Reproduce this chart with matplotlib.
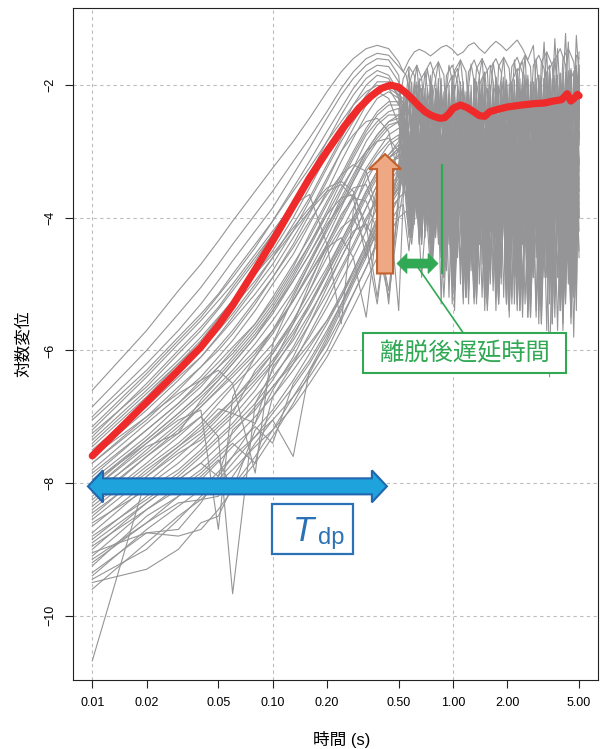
import matplotlib
matplotlib.use("Agg")
import matplotlib.pyplot as plt
import numpy as np
from matplotlib.patches import Polygon, Rectangle
from matplotlib.ticker import NullLocator
from matplotlib.transforms import IdentityTransform

plt.rcParams['font.family'] = ['Liberation Sans', 'Noto Sans CJK JP']

# sample times (s) of the rising part, shared by every record
RISE_T = [0.01, 0.02, 0.03, 0.04, 0.05, 0.06, 0.08, 0.10, 0.13, 0.16,
          0.20, 0.24, 0.28, 0.33, 0.38, 0.44, 0.50]

# sample times of the oscillating part (two staggered sets)
TAIL_T_A = [0.53, 0.57, 0.61, 0.65, 0.70, 0.75, 0.80, 0.86, 0.92, 0.99,
            1.06, 1.14, 1.22, 1.31, 1.40, 1.50, 1.61, 1.73, 1.85, 1.98,
            2.12, 2.27, 2.43, 2.60, 2.79, 2.99, 3.20, 3.43, 3.67, 3.93,
            4.21, 4.51, 4.83, 5.00]
TAIL_T_B = [0.55, 0.59, 0.63, 0.67, 0.72, 0.77, 0.83, 0.89, 0.95, 1.02,
            1.10, 1.18, 1.26, 1.35, 1.45, 1.55, 1.67, 1.79, 1.91, 2.05,
            2.19, 2.35, 2.51, 2.69, 2.89, 3.09, 3.31, 3.55, 3.80, 4.07,
            4.36, 4.67, 5.00]

# log displacement of each record while rising
RISE_V = [
    [-6.60, -5.70, -5.10, -4.70, -4.35, -4.05, -3.60, -3.25, -2.85, -2.50, -2.10, -1.80, -1.60, -1.45, -1.40, -1.45, -1.65],
    [-6.85, -6.00, -5.45, -5.05, -4.70, -4.40, -3.95, -3.60, -3.15, -2.80, -2.40, -2.05, -1.80, -1.60, -1.52, -1.55, -1.72],
    [-7.00, -6.20, -5.70, -5.30, -4.95, -4.65, -4.20, -3.85, -3.35, -2.95, -2.50, -2.15, -1.90, -1.70, -1.60, -1.62, -1.85],
    [-7.15, -6.35, -5.85, -5.50, -5.17, -4.90, -4.45, -4.05, -3.55, -3.15, -2.70, -2.35, -2.05, -1.80, -1.70, -1.72, -1.95],
    [-7.25, -6.55, -6.05, -5.70, -5.38, -5.10, -4.65, -4.25, -3.75, -3.35, -2.85, -2.45, -2.15, -1.90, -1.78, -1.85, -2.10],
    [-7.40, -6.65, -6.20, -5.85, -5.52, -5.25, -4.85, -4.50, -4.00, -3.55, -3.05, -2.65, -2.30, -2.00, -1.85, -1.90, -2.20],
    [-7.50, -6.80, -6.35, -6.00, -5.70, -5.45, -5.00, -4.60, -4.10, -3.70, -3.20, -2.80, -2.45, -2.15, -1.95, -1.95, -2.15],
    [-7.60, -6.90, -6.45, -6.10, -5.78, -5.50, -5.05, -4.70, -4.20, -3.75, -3.25, -2.85, -2.55, -2.25, -2.05, -2.00, -2.10],
    [-7.70, -7.05, -6.60, -6.25, -5.95, -5.70, -5.25, -4.90, -4.40, -3.95, -3.45, -3.00, -2.65, -2.30, -2.10, -2.05, -2.15],
    [-7.80, -7.10, -6.70, -6.40, -6.10, -5.85, -5.40, -5.00, -4.55, -4.10, -3.60, -3.15, -2.80, -2.45, -2.20, -2.10, -2.20],
    [-7.85, -7.20, -6.80, -6.45, -6.18, -5.95, -5.60, -5.25, -4.75, -4.25, -3.75, -3.35, -3.00, -2.65, -2.40, -2.25, -2.25],
    [-7.95, -7.30, -6.85, -6.55, -6.25, -6.00, -5.60, -5.20, -4.70, -4.30, -3.80, -3.40, -3.05, -2.70, -2.45, -2.30, -2.30],
    [-8.05, -7.35, -6.95, -6.65, -6.35, -6.10, -5.70, -5.35, -4.85, -4.40, -3.90, -3.45, -3.10, -2.75, -2.55, -2.40, -2.35],
    [-8.10, -7.45, -7.25, -6.75, -6.45, -6.20, -5.80, -5.45, -4.95, -4.55, -4.05, -3.60, -3.25, -2.85, -2.60, -2.45, -2.45],
    [-8.20, -7.50, -7.10, -6.80, -6.52, -6.30, -5.90, -5.55, -5.10, -4.65, -4.15, -3.75, -3.40, -3.00, -2.75, -2.55, -2.50],
    [-8.25, -7.60, -7.20, -6.85, -6.58, -6.35, -6.00, -5.70, -5.25, -4.80, -4.30, -3.85, -3.45, -3.05, -2.80, -2.60, -2.55],
    [-8.35, -7.70, -7.30, -7.00, -6.72, -6.50, -6.10, -5.75, -5.25, -4.85, -4.40, -4.00, -3.65, -3.25, -3.00, -2.75, -2.65],
    [-8.40, -7.75, -7.40, -7.10, -6.80, -6.55, -6.20, -5.90, -5.40, -4.95, -4.45, -4.05, -3.70, -3.30, -3.05, -2.85, -2.75],
    [-8.50, -7.80, -7.45, -7.15, -6.88, -6.95, -6.30, -6.00, -5.55, -5.10, -4.60, -4.20, -3.85, -3.45, -3.15, -2.90, -2.80],
    [-8.55, -7.90, -7.50, -7.25, -6.98, -6.75, -6.35, -6.05, -5.60, -5.20, -4.75, -4.35, -4.00, -3.60, -3.30, -3.05, -2.90],
    [-8.65, -8.00, -7.60, -7.30, -7.03, -6.80, -6.45, -6.15, -5.70, -5.30, -4.85, -4.45, -4.10, -3.70, -3.40, -3.10, -2.95],
    [-8.75, -8.05, -7.70, -7.40, -7.15, -6.95, -7.10, -6.25, -5.85, -5.45, -5.00, -4.60, -4.25, -3.85, -3.50, -3.25, -3.05],
    [-8.85, -8.20, -7.85, -7.55, -7.30, -7.10, -6.70, -6.40, -6.00, -5.60, -5.15, -4.75, -4.40, -4.00, -3.70, -3.40, -3.20],
    [-9.00, -8.30, -7.95, -7.70, -7.90, -7.20, -6.90, -6.55, -6.15, -5.80, -5.35, -4.95, -4.60, -4.20, -3.85, -3.55, -3.35],
    [-9.10, -8.40, -8.05, -7.80, -7.55, -7.35, -7.00, -6.70, -6.30, -5.95, -5.55, -5.15, -4.80, -4.40, -4.05, -3.75, -3.55],
    [-9.25, -8.50, -8.20, -7.95, -7.68, -7.45, -7.15, -7.40, -6.50, -6.15, -5.70, -5.30, -4.95, -4.55, -4.20, -3.90, -3.70],
    [-9.40, -8.70, -8.35, -8.10, -7.83, -7.60, -7.30, -7.05, -7.60, -6.30, -5.90, -5.50, -5.15, -4.75, -4.40, -4.10, -3.85],
    [-9.60, -8.90, -8.50, -8.25, -8.00, -7.80, -7.45, -7.20, -6.85, -6.50, -6.10, -5.70, -5.35, -4.95, -4.60, -4.25, -4.00],
    [-10.68, -7.90, -7.55, -7.35, -7.10, -6.90, -6.50, -6.20, -5.75, -5.35, -4.85, -4.40, -4.05, -3.65, -3.35, -3.10, -2.95],
    [-9.05, -8.75, -8.70, -8.30, -7.90, -7.60, -7.10, -6.60, -6.10, -5.60, -5.05, -4.60, -4.25, -3.85, -3.50, -3.25, -3.05],
    [-8.30, -7.60, -7.25, -7.00, -7.30, -9.67, -6.80, -6.30, -5.80, -5.30, -4.80, -4.35, -4.00, -3.60, -3.30, -3.05, -2.85],
    [-8.00, -7.40, -7.05, -6.90, -8.70, -6.70, -6.10, -5.70, -5.15, -4.70, -4.20, -3.80, -3.45, -3.10, -2.85, -2.65, -2.55],
    [-7.60, -7.00, -6.65, -6.45, -6.30, -6.50, -7.85, -5.90, -5.20, -4.70, -4.15, -3.70, -3.35, -3.00, -2.75, -2.55, -2.45],
    [-7.20, -6.40, -5.90, -5.55, -5.25, -5.00, -4.55, -4.20, -3.80, -3.65, -4.40, -5.60, -3.90, -3.35, -3.20, -3.70, -5.40],
    [-7.45, -6.70, -6.20, -5.90, -5.60, -5.35, -4.95, -4.60, -4.20, -3.90, -3.60, -3.50, -3.70, -4.60, -3.60, -3.15, -3.10],
    [-8.10, -7.40, -7.00, -6.70, -6.45, -6.20, -5.80, -5.40, -4.95, -4.55, -4.10, -3.80, -3.55, -3.50, -3.95, -5.30, -3.60],
    [-7.70, -7.00, -6.55, -6.25, -6.00, -5.75, -5.30, -4.90, -4.45, -4.05, -3.65, -3.35, -3.20, -3.30, -3.90, -3.40, -2.95],
    [-9.45, -9.00, -8.55, -8.20, -7.95, -7.70, -7.30, -6.95, -6.55, -6.20, -5.75, -5.30, -4.90, -4.50, -4.15, -3.80, -3.50],
    [-9.20, -8.60, -8.30, -8.25, -8.20, -7.90, -7.40, -7.05, -6.70, -6.40, -6.00, -5.55, -5.15, -4.75, -4.35, -4.00, -3.70],
    [-8.90, -8.30, -7.95, -7.70, -7.45, -7.25, -6.85, -6.55, -6.20, -5.90, -5.55, -5.20, -4.80, -4.40, -4.00, -3.65, -3.40],
    [-8.45, -7.85, -7.45, -7.20, -6.95, -6.75, -6.40, -6.05, -5.55, -5.10, -4.50, -4.15, -4.00, -4.40, -5.30, -3.90, -3.30],
    [-8.60, -8.10, -7.80, -7.50, -7.20, -7.00, -6.60, -6.20, -5.60, -5.00, -4.40, -3.95, -3.70, -3.75, -4.20, -5.10, -3.80],
    [-7.90, -7.20, -6.80, -6.50, -6.25, -6.05, -5.65, -5.30, -4.80, -4.40, -3.95, -3.70, -3.65, -4.10, -5.20, -3.90, -3.20],
    [-8.15, -7.55, -7.15, -6.85, -6.60, -6.40, -6.05, -5.70, -5.25, -4.85, -4.45, -4.30, -4.60, -5.50, -4.10, -3.50, -3.25],
    [-7.35, -6.60, -6.15, -5.80, -5.50, -5.25, -4.85, -4.55, -4.15, -3.85, -3.55, -3.45, -3.60, -4.20, -3.55, -3.10, -3.00],
    [-8.80, -8.25, -7.90, -7.60, -7.35, -7.15, -6.80, -6.45, -5.95, -5.50, -4.95, -4.50, -4.20, -4.10, -4.40, -5.20, -4.00],
    [-9.50, -9.30, -9.00, -8.60, -8.50, -8.05, -7.60, -7.20, -6.70, -6.30, -5.80, -5.35, -4.95, -4.50, -4.10, -3.75, -3.45],
    [-9.35, -8.75, -8.80, -8.70, -8.40, -8.10, -7.70, -7.30, -6.80, -6.35, -5.85, -5.40, -5.00, -4.60, -4.20, -3.85, -3.60],
    [-9.15, -8.60, -8.20, -7.90, -7.65, -8.10, -7.20, -6.90, -6.45, -6.05, -5.60, -5.20, -4.85, -4.45, -4.10, -3.80, -3.55],
    [-8.95, -8.40, -8.10, -7.85, -7.60, -7.40, -7.70, -6.70, -6.20, -5.75, -5.25, -4.80, -4.45, -4.05, -3.70, -3.40, -3.20],
    [-7.05, -6.30, -5.80, -5.45, -5.15, -4.85, -4.40, -4.05, -3.60, -3.25, -2.85, -2.55, -2.30, -2.10, -2.00, -2.05, -2.30],
    [-7.30, -6.50, -6.00, -5.65, -5.35, -5.05, -4.60, -4.25, -3.80, -3.45, -3.00, -2.65, -2.40, -2.20, -2.10, -2.20, -2.60],
    [-7.55, -6.85, -6.40, -6.10, -5.80, -5.55, -5.15, -4.80, -4.30, -3.90, -3.40, -3.00, -2.75, -2.55, -2.50, -2.70, -3.40],
    [-8.00, -7.35, -6.95, -6.65, -6.40, -6.15, -5.75, -5.40, -4.90, -4.45, -3.95, -3.55, -3.25, -3.00, -2.85, -2.80, -3.00],
]

# log displacement after departure (even rows on TAIL_T_A, odd rows on TAIL_T_B)
TAIL_V = [
    [-1.80, -1.62, -1.50, -1.46, -1.50, -1.56, -1.50, -1.43, -1.40, -1.46, -1.55, -1.50, -1.40, -1.36, -1.45, -1.52, -1.42, -1.34, -1.40, -1.48, -1.40, -1.32, -1.45, -1.62, -1.40, -2.60, -1.35, -3.10, -1.30, -2.80, -1.22, -3.40, -1.25, -1.90],
    [-1.85, -2.30, -1.70, -2.60, -1.75, -2.20, -1.65, -2.50, -1.70, -2.10, -1.62, -2.40, -1.68, -2.15, -1.60, -2.70, -1.66, -2.20, -1.58, -2.90, -1.62, -2.35, -1.55, -3.20, -1.60, -2.50, -1.50, -3.60, -1.45, -2.90, -1.35, -3.80, -1.50],
    [-2.60, -1.75, -3.40, -1.90, -4.10, -1.85, -3.60, -2.00, -4.60, -1.95, -3.90, -2.05, -5.10, -1.90, -4.30, -2.00, -4.80, -1.88, -3.70, -1.95, -5.30, -1.92, -4.20, -1.85, -4.90, -1.90, -3.80, -1.80, -5.20, -1.85, -4.40, -1.75, -4.70, -1.70],
    [-3.20, -1.95, -3.80, -2.05, -3.30, -2.00, -4.40, -2.10, -3.90, -2.00, -5.00, -2.10, -4.20, -1.95, -4.70, -2.05, -3.90, -2.00, -5.20, -1.98, -4.50, -1.90, -4.00, -1.95, -5.40, -1.88, -4.30, -1.90, -4.90, -1.82, -3.90, -1.80, -4.60],
    [-2.05, -3.50, -1.95, -3.90, -2.05, -4.20, -2.10, -3.40, -2.00, -4.90, -2.15, -4.00, -2.05, -4.60, -2.10, -5.20, -2.00, -4.30, -2.05, -3.80, -1.95, -4.90, -2.00, -4.40, -1.98, -5.60, -1.95, -4.10, -1.90, -4.80, -1.85, -4.30, -1.80, -2.40],
    [-2.30, -3.70, -2.00, -4.30, -2.15, -3.60, -2.05, -4.00, -2.20, -3.50, -2.10, -4.80, -2.20, -3.90, -2.05, -4.40, -2.15, -5.10, -2.05, -4.20, -2.10, -3.70, -2.00, -5.00, -2.05, -4.50, -1.95, -3.90, -2.00, -5.30, -1.90, -4.20, -1.85],
    [-3.10, -2.05, -3.60, -2.15, -4.30, -2.10, -3.30, -2.20, -4.10, -2.15, -4.50, -2.05, -3.70, -2.20, -5.00, -2.10, -4.20, -2.15, -4.70, -2.05, -3.90, -2.10, -5.10, -2.00, -4.30, -2.05, -4.80, -2.00, -3.80, -1.95, -5.00, -1.90, -4.40, -2.00],
    [-2.40, -3.30, -2.10, -3.90, -2.25, -4.20, -2.15, -3.50, -2.30, -4.60, -2.20, -4.00, -2.25, -5.30, -2.15, -4.40, -2.20, -3.80, -2.10, -4.90, -2.15, -4.30, -2.05, -5.50, -2.10, -4.10, -2.05, -4.70, -2.00, -3.90, -1.95, -5.10, -2.05],
    [-2.20, -3.80, -2.10, -3.40, -2.25, -4.00, -2.20, -4.40, -2.30, -3.70, -2.20, -4.60, -2.25, -4.10, -2.15, -5.40, -2.25, -3.90, -2.20, -4.50, -2.10, -4.80, -2.15, -3.80, -2.10, -5.20, -2.05, -4.40, -2.10, -4.90, -2.00, -3.70, -1.95, -2.90],
    [-3.00, -2.20, -3.50, -2.30, -4.10, -2.20, -3.60, -2.35, -5.20, -2.25, -3.90, -2.30, -4.50, -2.20, -4.00, -2.25, -4.80, -2.15, -3.70, -2.20, -5.30, -2.10, -4.20, -2.15, -4.60, -2.05, -5.70, -2.10, -4.10, -2.00, -4.70, -1.95, -4.00],
    [-2.30, -3.30, -2.20, -3.90, -2.35, -3.50, -2.30, -4.20, -2.40, -4.70, -2.30, -3.80, -2.35, -4.40, -2.25, -4.90, -2.30, -4.10, -2.20, -5.00, -2.25, -3.90, -2.15, -4.60, -2.20, -5.30, -2.10, -6.40, -2.15, -4.30, -2.05, -4.80, -2.00, -3.20],
    [-2.45, -3.60, -2.25, -4.00, -2.40, -3.40, -2.30, -4.50, -2.35, -3.80, -2.25, -5.10, -2.35, -4.30, -2.20, -3.90, -2.30, -4.60, -2.20, -5.40, -2.25, -4.10, -2.15, -4.70, -2.20, -3.80, -2.10, -5.20, -2.15, -4.40, -2.05, -5.00, -2.10],
    [-3.40, -2.30, -3.90, -2.40, -3.30, -2.35, -4.30, -2.45, -3.70, -2.30, -4.60, -2.40, -5.00, -2.30, -4.20, -2.35, -4.70, -2.25, -3.90, -2.30, -5.20, -2.20, -4.40, -2.25, -4.90, -2.15, -4.10, -2.20, -5.50, -2.10, -4.60, -2.05, -5.10, -2.15],
    [-2.35, -3.20, -2.45, -3.80, -2.30, -4.20, -2.50, -3.60, -2.40, -4.40, -2.35, -4.90, -2.45, -3.90, -2.30, -5.30, -2.40, -4.30, -2.30, -4.80, -2.35, -3.90, -2.25, -5.10, -2.30, -4.50, -2.20, -5.60, -2.25, -4.20, -2.15, -4.70, -2.30],
    [-2.50, -3.70, -2.40, -4.10, -2.55, -3.50, -2.45, -3.90, -2.50, -5.30, -2.40, -4.30, -2.50, -3.90, -2.40, -4.50, -2.35, -5.00, -2.40, -4.20, -2.30, -4.70, -2.35, -5.40, -2.25, -4.30, -2.30, -4.80, -2.20, -3.90, -2.25, -5.20, -2.15, -3.40],
    [-3.50, -2.45, -4.00, -2.55, -3.40, -2.45, -4.30, -2.60, -3.80, -2.50, -4.70, -2.40, -4.10, -2.50, -5.20, -2.40, -4.40, -2.45, -3.90, -2.35, -4.90, -2.40, -4.30, -2.30, -5.50, -2.35, -4.60, -2.25, -4.10, -2.30, -5.00, -2.20, -4.50],
    [-2.70, -3.90, -2.55, -3.40, -2.65, -4.30, -2.50, -3.80, -2.60, -4.20, -2.50, -5.20, -2.55, -4.40, -2.45, -3.90, -2.50, -4.80, -2.40, -5.30, -2.45, -4.10, -2.35, -4.60, -2.40, -5.00, -2.30, -4.20, -2.35, -5.40, -2.25, -4.50, -2.20, -2.60],
    [-3.30, -2.65, -3.70, -2.55, -4.20, -2.70, -3.50, -2.60, -4.40, -2.55, -3.90, -2.65, -4.80, -2.50, -4.30, -2.55, -5.10, -2.45, -4.00, -2.50, -4.60, -2.40, -5.30, -2.45, -4.20, -2.35, -4.90, -2.40, -5.70, -2.30, -4.40, -2.25, -3.60],
    [-2.75, -3.60, -2.60, -4.00, -2.70, -3.40, -2.65, -4.40, -2.55, -3.70, -2.65, -4.90, -2.55, -4.20, -2.60, -4.60, -2.50, -5.40, -2.55, -4.10, -2.45, -4.70, -2.50, -3.90, -2.40, -5.10, -2.45, -4.50, -2.35, -4.90, -2.40, -5.60, -2.30, -4.00],
    [-2.90, -3.80, -2.70, -4.20, -2.80, -3.60, -2.65, -4.60, -2.75, -5.10, -2.60, -4.00, -2.70, -4.50, -2.60, -3.90, -2.65, -5.20, -2.55, -4.40, -2.60, -4.80, -2.50, -4.10, -2.55, -5.30, -2.45, -4.60, -2.50, -4.20, -2.40, -5.00, -2.45],
    [-3.60, -2.70, -4.10, -2.80, -3.50, -2.65, -4.30, -2.75, -4.80, -2.65, -4.00, -2.70, -5.30, -2.60, -4.40, -2.65, -3.90, -2.55, -4.90, -2.60, -4.20, -2.50, -5.50, -2.55, -4.50, -2.45, -4.00, -2.50, -5.00, -2.40, -4.60, -2.35, -5.40, -2.45],
    [-3.00, -3.80, -2.80, -4.30, -2.90, -3.60, -2.75, -4.10, -2.85, -4.70, -2.70, -4.00, -2.80, -5.00, -2.65, -4.30, -2.70, -4.80, -2.60, -3.90, -2.65, -5.20, -2.55, -4.40, -2.60, -4.90, -2.50, -4.20, -2.55, -5.50, -2.45, -4.50, -2.40],
    [-3.10, -4.00, -2.90, -3.70, -3.00, -4.40, -2.85, -3.90, -2.95, -4.60, -2.80, -5.10, -2.90, -4.20, -2.75, -4.80, -2.85, -4.00, -2.70, -5.30, -2.80, -4.50, -2.65, -4.10, -2.75, -5.20, -2.60, -4.70, -2.70, -4.30, -2.55, -5.00, -2.60, -3.90],
    [-3.20, -4.20, -3.00, -3.80, -3.10, -4.50, -2.95, -4.00, -3.05, -5.00, -2.90, -4.30, -3.00, -4.70, -2.85, -4.10, -2.95, -5.30, -2.80, -4.40, -2.90, -4.80, -2.75, -5.50, -2.85, -4.20, -2.70, -4.90, -2.80, -4.40, -2.65, -5.20, -2.70],
    [-3.40, -4.10, -3.10, -4.40, -3.20, -3.90, -3.05, -4.60, -3.15, -4.20, -3.00, -4.90, -3.10, -4.40, -2.95, -5.20, -3.05, -4.10, -2.90, -4.70, -3.00, -5.40, -2.85, -4.30, -2.95, -4.80, -2.80, -4.20, -2.90, -5.10, -2.75, -4.50, -2.85, -3.60],
    [-3.60, -4.30, -3.30, -4.00, -3.40, -4.70, -3.25, -4.20, -3.35, -5.10, -3.20, -4.50, -3.30, -4.00, -3.15, -4.80, -3.25, -5.20, -3.10, -4.40, -3.20, -4.90, -3.05, -4.20, -3.15, -5.60, -3.00, -4.60, -3.10, -4.30, -2.95, -5.00, -3.10],
    [-3.80, -4.50, -3.50, -4.20, -3.60, -4.80, -3.40, -4.30, -3.55, -5.00, -3.35, -4.60, -3.45, -5.30, -3.30, -4.40, -3.40, -4.90, -3.25, -4.30, -3.35, -5.20, -3.20, -4.70, -3.30, -4.20, -3.15, -5.00, -3.25, -4.50, -3.10, -5.30, -3.20, -4.00],
    [-3.90, -4.40, -3.60, -4.90, -3.70, -4.30, -3.55, -5.20, -3.65, -4.60, -3.50, -5.00, -3.60, -4.40, -3.45, -5.40, -3.55, -4.70, -3.40, -5.10, -3.50, -4.50, -3.35, -5.30, -3.45, -4.80, -3.30, -4.40, -3.40, -5.60, -3.25, -4.90, -3.40],
    [-2.40, -3.50, -2.20, -4.00, -2.30, -3.70, -2.15, -4.30, -2.25, -5.00, -2.10, -4.10, -2.20, -4.60, -2.05, -3.90, -2.15, -5.20, -2.00, -4.40, -2.10, -4.90, -1.95, -4.20, -2.05, -5.40, -1.90, -4.60, -2.00, -4.10, -1.85, -5.00, -1.80, -2.50],
    [-2.60, -3.40, -2.35, -3.90, -2.45, -4.20, -2.30, -3.70, -2.40, -4.60, -2.25, -5.20, -2.35, -4.30, -2.20, -4.80, -2.30, -4.00, -2.15, -5.50, -2.25, -4.40, -2.10, -4.90, -2.20, -4.10, -2.05, -5.30, -2.15, -4.60, -2.00, -5.80, -2.05],
    [-2.30, -3.90, -2.10, -3.30, -2.20, -4.10, -2.05, -3.60, -2.15, -4.40, -2.00, -4.90, -2.10, -3.80, -1.95, -4.50, -2.05, -5.00, -1.95, -4.20, -2.00, -4.70, -1.90, -5.50, -1.95, -4.00, -1.90, -4.80, -1.85, -5.20, -1.80, -4.30, -1.75, -3.20],
    [-2.10, -3.60, -1.95, -4.10, -2.05, -3.40, -1.90, -4.50, -2.00, -3.80, -1.95, -5.00, -2.00, -4.20, -1.90, -4.70, -1.95, -5.30, -1.88, -4.00, -1.92, -4.60, -1.85, -5.10, -1.90, -4.30, -1.82, -4.90, -1.85, -5.40, -1.78, -4.40, -1.70],
    [-3.20, -1.95, -3.80, -2.00, -4.20, -1.90, -3.50, -2.05, -4.70, -1.95, -4.00, -2.00, -5.10, -1.92, -4.40, -1.98, -3.90, -1.90, -4.90, -1.95, -4.30, -1.88, -5.30, -1.92, -4.50, -1.85, -4.10, -1.90, -5.00, -1.82, -4.60, -1.78, -5.20, -1.75],
    [-2.60, -4.00, -2.35, -3.50, -2.50, -4.40, -2.30, -3.90, -2.45, -4.80, -2.35, -4.20, -2.40, -5.20, -2.30, -4.00, -2.35, -4.60, -2.25, -5.00, -2.30, -4.30, -2.20, -4.80, -2.25, -5.60, -2.15, -4.40, -2.20, -4.90, -2.10, -4.10, -2.15],
    [-2.70, -3.70, -2.50, -4.20, -2.60, -3.50, -2.45, -4.00, -2.55, -4.60, -2.45, -5.30, -2.50, -4.10, -2.40, -4.70, -2.45, -3.90, -2.35, -5.00, -2.40, -4.40, -2.30, -4.90, -2.35, -4.10, -2.25, -5.30, -2.30, -4.60, -2.20, -5.00, -2.15, -3.50],
    [-2.90, -4.10, -2.70, -3.60, -2.80, -4.40, -2.65, -3.90, -2.75, -5.40, -2.60, -4.30, -2.70, -4.80, -2.55, -4.00, -2.65, -4.60, -2.50, -5.10, -2.60, -4.20, -2.45, -4.70, -2.55, -5.30, -2.40, -4.50, -2.50, -4.00, -2.35, -5.10, -2.45],
    [-2.50, -3.40, -2.30, -3.90, -2.40, -4.30, -2.25, -5.30, -2.35, -3.80, -2.25, -4.50, -2.30, -4.00, -2.20, -4.90, -2.25, -4.30, -2.15, -5.10, -2.20, -3.90, -2.10, -4.60, -2.15, -5.00, -2.05, -4.20, -2.10, -4.70, -2.00, -5.30, -1.95, -2.80],
    [-3.10, -4.20, -2.90, -3.80, -3.00, -4.50, -2.85, -4.00, -2.95, -4.70, -2.80, -5.20, -2.90, -4.30, -2.75, -4.90, -2.85, -4.10, -2.70, -5.40, -2.80, -4.50, -2.65, -4.20, -2.75, -5.00, -2.60, -4.60, -2.70, -5.20, -2.55, -4.40, -2.60],
    [-3.30, -4.30, -3.00, -3.90, -3.10, -4.60, -2.95, -4.10, -3.05, -4.90, -2.90, -4.40, -3.00, -5.20, -2.85, -4.20, -2.95, -4.70, -2.80, -5.00, -2.90, -4.30, -2.75, -5.40, -2.85, -4.60, -2.70, -4.10, -2.80, -4.90, -2.65, -5.50, -2.70, -4.20],
    [-2.80, -3.90, -2.55, -4.40, -2.65, -3.70, -2.50, -4.20, -2.60, -5.00, -2.45, -4.10, -2.55, -4.60, -2.40, -5.30, -2.50, -4.20, -2.35, -4.80, -2.45, -3.90, -2.30, -5.20, -2.40, -4.50, -2.25, -4.90, -2.35, -5.70, -2.20, -4.30, -2.25],
    [-2.90, -2.10, -3.70, -1.95, -1.80, -2.40, -4.20, -2.05, -3.60, -1.90, -1.75, -2.30, -4.60, -2.10, -3.90, -1.85, -1.70, -2.20, -5.00, -2.00, -4.10, -1.80, -1.65, -2.40, -4.80, -1.95, -3.80, -1.75, -1.60, -2.60, -5.20, -1.90, -1.70, -2.20],
    [-2.50, -3.80, -2.20, -4.40, -2.30, -3.70, -2.15, -4.90, -2.25, -4.00, -2.10, -5.20, -2.20, -4.30, -2.05, -4.70, -2.15, -3.90, -2.00, -5.30, -2.10, -4.50, -1.95, -4.90, -2.05, -4.20, -1.90, -5.60, -2.00, -4.40, -1.85, -4.90, -1.95],
    [-2.40, -3.60, -2.15, -1.95, -2.50, -4.10, -2.20, -3.80, -2.05, -1.85, -2.60, -4.50, -2.15, -3.90, -2.00, -1.80, -2.70, -4.80, -2.10, -4.20, -1.95, -1.75, -2.80, -5.10, -2.05, -4.00, -1.90, -1.70, -2.90, -5.40, -2.00, -4.30, -1.80, -2.10],
    [-2.70, -3.90, -2.40, -3.50, -2.50, -4.60, -2.35, -4.00, -2.45, -5.10, -2.30, -4.20, -2.40, -4.70, -2.25, -3.90, -2.35, -5.30, -2.20, -4.40, -2.30, -4.90, -2.15, -4.10, -2.25, -5.40, -2.10, -4.60, -2.20, -5.00, -2.05, -4.30, -2.10],
    [-2.60, -3.40, -2.30, -3.90, -2.40, -4.30, -2.25, -3.70, -2.35, -4.80, -2.20, -4.10, -2.30, -5.20, -2.15, -4.40, -2.25, -3.90, -2.10, -4.90, -2.20, -4.30, -2.05, -5.50, -2.15, -4.60, -2.00, -4.10, -2.10, -5.10, -1.95, -4.50, -2.00, -3.30],
    [-3.30, -4.20, -3.00, -3.70, -3.10, -4.50, -2.90, -4.00, -3.00, -4.80, -2.85, -4.30, -2.95, -5.10, -2.80, -4.50, -2.90, -4.00, -2.75, -5.30, -2.85, -4.60, -2.70, -4.20, -2.80, -5.00, -2.65, -4.50, -2.75, -5.50, -2.60, -4.80, -2.70],
    [-3.10, -3.90, -2.80, -4.40, -2.90, -3.80, -2.75, -4.60, -2.85, -4.10, -2.70, -5.00, -2.80, -4.40, -2.65, -4.90, -2.75, -4.20, -2.60, -5.30, -2.70, -4.60, -2.55, -4.10, -2.65, -5.20, -2.50, -4.70, -2.60, -4.30, -2.45, -5.40, -2.55, -3.80],
    [-3.20, -4.10, -2.95, -3.70, -3.05, -4.40, -2.90, -4.90, -3.00, -4.20, -2.85, -4.70, -2.95, -5.20, -2.80, -4.30, -2.90, -4.80, -2.75, -4.10, -2.85, -5.40, -2.70, -4.50, -2.80, -4.90, -2.65, -4.30, -2.75, -5.20, -2.60, -4.60, -2.70],
    [-3.00, -4.00, -2.70, -3.60, -2.80, -4.30, -2.65, -3.90, -2.75, -4.70, -2.60, -4.20, -2.70, -5.00, -2.55, -4.40, -2.65, -4.90, -2.50, -4.10, -2.60, -5.30, -2.45, -4.60, -2.55, -4.20, -2.40, -5.10, -2.50, -4.50, -2.35, -5.00, -2.45, -3.70],
    [-2.80, -3.70, -2.50, -4.20, -2.60, -3.60, -2.45, -4.50, -2.55, -4.00, -2.40, -4.90, -2.50, -4.30, -2.35, -5.20, -2.45, -4.10, -2.30, -4.70, -2.40, -5.40, -2.25, -4.40, -2.35, -4.90, -2.20, -4.20, -2.30, -5.30, -2.15, -4.60, -2.25],
    [-1.90, -1.72, -1.85, -2.60, -1.80, -1.65, -1.90, -3.10, -1.85, -1.70, -1.95, -2.90, -1.80, -1.62, -1.85, -3.40, -1.75, -1.60, -1.80, -2.70, -1.72, -1.58, -1.82, -3.20, -1.70, -1.55, -1.75, -2.80, -1.62, -1.45, -1.70, -3.00, -1.55, -1.60],
    [-2.20, -1.85, -1.70, -1.90, -2.80, -1.80, -1.65, -1.85, -3.30, -1.78, -1.62, -1.80, -2.90, -1.75, -1.60, -1.78, -3.50, -1.72, -1.58, -1.75, -3.00, -1.70, -1.55, -1.72, -3.60, -1.65, -1.50, -1.70, -3.20, -1.60, -1.45, -1.65, -2.40],
    [-2.60, -2.00, -3.30, -1.95, -4.00, -2.05, -3.50, -1.90, -4.40, -2.00, -3.80, -1.95, -4.70, -1.90, -4.00, -1.95, -5.00, -1.88, -4.30, -1.92, -3.90, -1.85, -5.20, -1.90, -4.40, -1.85, -4.90, -1.80, -4.10, -1.82, -5.30, -1.78, -4.60, -1.80],
    [-2.30, -3.60, -2.10, -4.10, -2.20, -3.50, -2.05, -4.50, -2.15, -3.90, -2.00, -4.80, -2.10, -4.20, -1.98, -5.10, -2.05, -4.00, -1.95, -4.60, -2.00, -5.30, -1.92, -4.30, -1.98, -4.90, -1.90, -4.10, -1.95, -5.50, -1.88, -4.40, -1.90],
]

# averaged log displacement
RED_T = [0.01, 0.015, 0.02, 0.03, 0.04, 0.05, 0.06, 0.08, 0.10, 0.13,
         0.16, 0.20, 0.25, 0.30, 0.35, 0.40, 0.45, 0.50, 0.55, 0.60,
         0.65, 0.70, 0.75, 0.80, 0.85, 0.90, 0.95, 1.00, 1.10, 1.20,
         1.30, 1.40, 1.50, 1.60, 1.80, 2.00, 2.40, 2.80, 3.20, 3.60,
         4.00, 4.30, 4.50, 4.70, 4.90, 5.00]
RED_V = [-7.59, -7.12, -6.78, -6.30, -5.95, -5.62, -5.32, -4.78, -4.35, -3.82,
         -3.40, -3.00, -2.62, -2.35, -2.17, -2.05, -2.00, -2.03, -2.12, -2.22,
         -2.32, -2.40, -2.45, -2.48, -2.50, -2.49, -2.43, -2.35, -2.30, -2.34,
         -2.40, -2.46, -2.47, -2.40, -2.36, -2.33, -2.30, -2.28, -2.27, -2.24,
         -2.22, -2.13, -2.24, -2.20, -2.14, -2.16]

X_TICKS = [0.01, 0.02, 0.05, 0.10, 0.20, 0.50, 1.00, 2.00, 5.00]
X_LABELS = ['0.01', '0.02', '0.05', '0.10', '0.20', '0.50', '1.00', '2.00', '5.00']
Y_TICKS = [-10, -8, -6, -4, -2]
Y_LABELS = ['\u221210', '\u22128', '\u22126', '\u22124', '\u22122']

GRAY = '#959597'
RED = '#ee2a2a'
GREEN = '#30a854'
BLUE_LINE = '#2a71b6'


def block_arrow(ax, start, end, body, head_w, head_len, both=False, **kw):
    """Fat arrow between two data points; widths are given in pixels."""
    p0 = np.asarray(ax.transData.transform(start))
    p1 = np.asarray(ax.transData.transform(end))
    d = p1 - p0
    length = np.hypot(*d)
    u = d / length
    n = np.array([-u[1], u[0]])
    hb, hh = body / 2, head_w / 2
    if both:
        prof = [(0, 0), (head_len, hh), (head_len, hb), (length - head_len, hb),
                (length - head_len, hh), (length, 0), (length - head_len, -hh),
                (length - head_len, -hb), (head_len, -hb), (head_len, -hh)]
    else:
        prof = [(0, hb), (length - head_len, hb), (length - head_len, hh),
                (length, 0), (length - head_len, -hh), (length - head_len, -hb),
                (0, -hb)]
    verts = [p0 + s * u + w * n for s, w in prof]
    poly = Polygon(verts, closed=True, transform=IdentityTransform(),
                   joinstyle='miter', zorder=6, **kw)
    ax.figure.add_artist(poly)


fig = plt.figure(figsize=(6.0, 7.49), dpi=100)
ax = fig.add_axes([73 / 600, 1 - 680 / 749, 525 / 600, 672 / 749])

ax.set_xscale('log')
ax.set_xlim(10 ** -2.107, 10 ** 0.804)
ax.set_ylim(-10.97, -0.837)

# dashed grid at decades and even values
for gx in [0.01, 0.1, 1.0]:
    ax.axvline(gx, color='#bdbdbd', lw=0.8, ls=(0, (3, 3)), zorder=1)
for gy in Y_TICKS:
    ax.axhline(gy, color='#bdbdbd', lw=0.8, ls=(0, (3, 3)), zorder=1)

# individual records
for i, (rise, tail) in enumerate(zip(RISE_V, TAIL_V)):
    tail_t = TAIL_T_A if i % 2 == 0 else TAIL_T_B
    ax.plot(RISE_T + tail_t, rise + tail, color=GRAY, lw=0.8, zorder=2)

# average
ax.plot(RED_T, RED_V, color=RED, lw=5.2, solid_capstyle='round',
        solid_joinstyle='round', zorder=4)

ax.set_xticks(X_TICKS)
ax.set_xticklabels(X_LABELS)
ax.xaxis.set_minor_locator(NullLocator())
ax.set_yticks(Y_TICKS)
ax.set_yticklabels(Y_LABELS, rotation=90, va='center')
ax.tick_params(direction='out', length=5.8, width=0.8, labelsize=9,
               pad=6.5, color='#222222')
for sp in ax.spines.values():
    sp.set_linewidth(0.8)
    sp.set_color('#222222')

fig.text(23 / 600, 1 - 344 / 749, '対数変位', rotation=90, fontsize=12,
         ha='center', va='center')
fig.text(342 / 600, 1 - 740 / 749, '時間 (s)', fontsize=12,
         ha='center', va='center')

# T_dp span
block_arrow(ax, (0.00946, -8.05), (0.43, -8.05), body=16, head_w=32,
            head_len=15, both=True, fc='#1ea3dc', ec='#2167ae', lw=1.5)
ax.add_patch(Rectangle((0.0991, -9.07), 0.279 - 0.0991, 0.756, fc='white',
                       ec=BLUE_LINE, lw=1.6, zorder=6))
ax.text(0.1297, -8.873, 'T', fontsize=25, style='italic', color=BLUE_LINE,
        ha='left', va='baseline', zorder=7)
ax.text(0.178, -8.918, 'dp', fontsize=17, color=BLUE_LINE,
        ha='left', va='baseline', zorder=7)

# departure
block_arrow(ax, (0.42, -4.84), (0.42, -3.04), body=16, head_w=32,
            head_len=15, fc='#eea984', ec='#c1602b', lw=1.5)

# delay after departure
block_arrow(ax, (0.489, -4.69), (0.826, -4.69), body=9, head_w=20,
            head_len=10, both=True, fc=GREEN, ec=GREEN, lw=0.5)
ax.plot([0.869, 0.869], [-3.21, -4.84], color=GREEN, lw=1.6, zorder=6)
ax.plot([0.64, 1.136], [-4.75, -5.731], color=GREEN, lw=1.2, zorder=6)
ax.add_patch(Rectangle((0.317, -6.335), 4.236 - 0.317, 0.604, fc='white',
                       ec=GREEN, lw=1.5, zorder=6))
ax.text(1.158, -6.04, '離脱後遅延時間', fontsize=17.5, color=GREEN,
        ha='center', va='center', family='Noto Sans CJK JP', zorder=7)

fig.savefig('out.png', dpi=100)
